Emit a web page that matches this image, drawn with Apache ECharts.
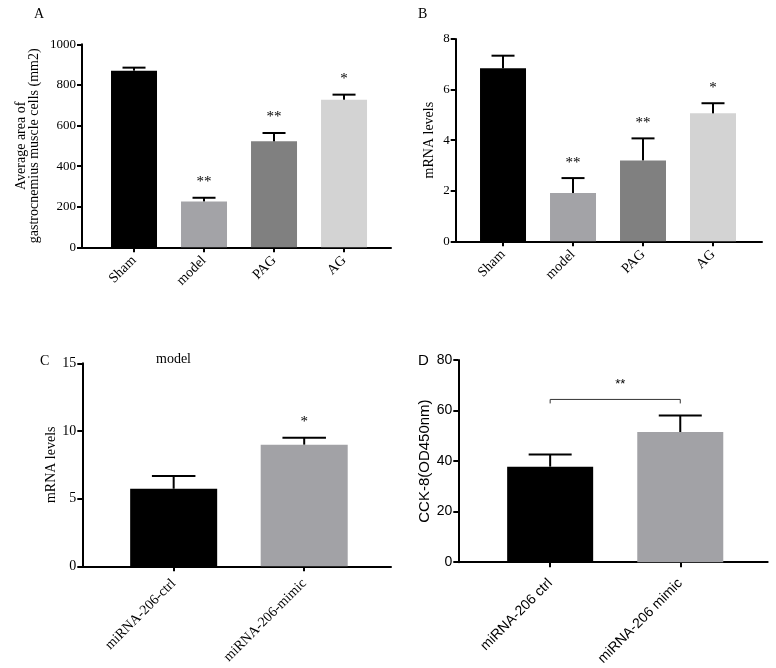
<!DOCTYPE html>
<html>
<head>
<meta charset="utf-8">
<script src="https://cdn.jsdelivr.net/npm/echarts@6/dist/echarts.min.js"></script>
<style>html,body{margin:0;padding:0;background:#fff}#c{width:776px;height:668px}</style>
</head>
<body>
<div id="c"></div>
<script>
// ---- data ----
var catsAB = ['Sham', 'model', 'PAG', 'AG'];
var areaMean = [870, 226, 522, 727];
var areaErr = [15, 18, 41, 25];
var areaSig = ['', '**', '**', '*'];
var mrnaMean = [6.84, 1.91, 3.20, 5.06];
var mrnaErr = [0.50, 0.59, 0.87, 0.40];
var mrnaSig = ['', '**', '**', '*'];
var catsC = ['miRNA-206-ctrl', 'miRNA-206-mimic'];
var mrnaCMean = [5.73, 8.99];
var mrnaCErr = [0.94, 0.51];
var mrnaCSig = ['', '*'];
var catsD = ['miRNA-206 ctrl', 'miRNA-206 mimic'];
var cckMean = [37.8, 51.5];
var cckErr = [4.8, 6.5];
var cckSig = ['', ''];
var bracketD = [[0, 1, 64.4]];
var bracketSig = ['**'];

var colorsAB = ['#000000', '#a3a3a7', '#808080', '#d3d3d3'];
var colorsCD = ['#000000', '#a2a2a6'];

var SERIF = '"Liberation Serif", "DejaVu Serif", serif';
var SANS = '"Liberation Sans", Arial, sans-serif';

function toData(means, errs) {
  return means.map(function (m, i) { return [i, m, errs[i]]; });
}

function barRender(widthFrac, colors, sigs, starFont, starGap) {
  return function (params, api) {
    var x = api.value(0), v = api.value(1), e = api.value(2);
    var d = params.dataIndex;
    var sig = sigs[d];
    var base = api.coord([x, 0]);
    var top = api.coord([x, v]);
    var errTop = api.coord([x, v + e]);
    var unit = api.size([1, 0])[0];
    var w = unit * widthFrac;
    var children = [
      { type: 'rect', shape: { x: base[0] - w / 2, y: top[1], width: w, height: base[1] - top[1] }, style: { fill: colors[d] } },
      { type: 'line', shape: { x1: top[0], y1: top[1], x2: top[0], y2: errTop[1] }, style: { stroke: '#000', lineWidth: 2 } },
      { type: 'line', shape: { x1: top[0] - w / 4, y1: errTop[1], x2: top[0] + w / 4, y2: errTop[1] }, style: { stroke: '#000', lineWidth: 2 } }
    ];
    if (sig) {
      children.push({ type: 'text', style: { text: sig, x: errTop[0], y: errTop[1] - starGap, align: 'center', verticalAlign: 'middle', font: starFont, fill: '#000' } });
    }
    return { type: 'group', children: children };
  };
}

function bracketRender(params, api) {
  var a = api.coord([api.value(0), api.value(2)]);
  var b = api.coord([api.value(1), api.value(2)]);
  var sig = bracketSig[params.dataIndex];
  return { type: 'group', children: [
    { type: 'polyline', shape: { points: [[a[0], a[1] + 4], [a[0], a[1]], [b[0], b[1]], [b[0], b[1] + 4]] }, style: { stroke: '#333', lineWidth: 1, fill: null } },
    { type: 'text', style: { text: sig, x: (a[0] + b[0]) / 2 + 5, y: a[1] - 15, align: 'center', verticalAlign: 'middle', font: '13px ' + SANS, fill: '#000' } }
  ] };
}

function xAxisCfg(gridIndex, min, max, cats, font, margin) {
  var vals = cats.map(function (c, i) { return i; });
  return {
    type: 'value', gridIndex: gridIndex, min: min, max: max,
    axisLine: { show: true, onZero: false, lineStyle: { color: '#000', width: 2 } },
    axisTick: { show: true, customValues: vals, length: 5, lineStyle: { color: '#000', width: 2 } },
    axisLabel: { show: true, customValues: vals, rotate: 45, margin: margin, color: '#000', fontFamily: font, fontSize: 14,
      formatter: function (v) { var i = Math.round(v); return cats[i] !== undefined ? cats[i] : ''; } },
    splitLine: { show: false }
  };
}

function yAxisCfg(gridIndex, max, interval, name, nameGap, font, tickSize, nameSize) {
  return {
    type: 'value', gridIndex: gridIndex, min: 0, max: max, interval: interval,
    name: name, nameLocation: 'middle', nameGap: nameGap,
    nameTextStyle: { color: '#000', fontFamily: font, fontSize: nameSize, lineHeight: 13, align: 'center' },
    axisLine: { show: true, onZero: false, lineStyle: { color: '#000', width: 2 } },
    axisTick: { show: true, length: 5, lineStyle: { color: '#000', width: 2 } },
    axisLabel: { color: '#000', fontFamily: font, fontSize: tickSize, margin: 6, formatter: function (v) { return String(v); } },
    splitLine: { show: false }
  };
}

var chart = echarts.init(document.getElementById('c'), null, { renderer: 'canvas' });
chart.setOption({
  animation: false,
  backgroundColor: '#fff',
  grid: [
    { left: 82, top: 44.3, width: 309, height: 203 },
    { left: 455.7, top: 39, width: 306.3, height: 202.3 },
    { left: 82.3, top: 363.3, width: 308.7, height: 203 },
    { left: 458.3, top: 360, width: 309.4, height: 202.3 }
  ],
  xAxis: [
    xAxisCfg(0, -0.743, 3.671, catsAB, SERIF, 11),
    xAxisCfg(1, -0.676, 3.70, catsAB, SERIF, 11),
    xAxisCfg(2, -0.70, 1.665, catsC, SERIF, 15),
    xAxisCfg(3, -0.706, 1.672, catsD, SANS, 19)
  ],
  yAxis: [
    yAxisCfg(0, 1000, 200, 'Average area of\ngastrocnemius muscle cells (mm2)', 41, SERIF, 13, 14),
    yAxisCfg(1, 8, 2, 'mRNA levels', 20, SERIF, 13, 14),
    yAxisCfg(2, 15, 5, 'mRNA levels', 23, SERIF, 14, 14),
    yAxisCfg(3, 80, 20, 'CCK-8(OD450nm)', 24, SANS, 14, 15)
  ],
  graphic: [
    { type: 'text', left: 34, top: 7, style: { text: 'A', font: '14px ' + SERIF, fill: '#000' } },
    { type: 'text', left: 418, top: 7, style: { text: 'B', font: '14px ' + SERIF, fill: '#000' } },
    { type: 'text', left: 40, top: 354, style: { text: 'C', font: '14px ' + SERIF, fill: '#000' } },
    { type: 'text', left: 156, top: 352, style: { text: 'model', font: '14px ' + SERIF, fill: '#000' } },
    { type: 'text', left: 418, top: 353, style: { text: 'D', font: '15px ' + SANS, fill: '#000' } }
  ],
  series: [
    { type: 'custom', xAxisIndex: 0, yAxisIndex: 0, clip: false, renderItem: barRender(46 / 70, colorsAB, areaSig, '15px ' + SERIF, 16), data: toData(areaMean, areaErr) },
    { type: 'custom', xAxisIndex: 1, yAxisIndex: 1, clip: false, renderItem: barRender(46 / 70, colorsAB, mrnaSig, '15px ' + SERIF, 15), data: toData(mrnaMean, mrnaErr) },
    { type: 'custom', xAxisIndex: 2, yAxisIndex: 2, clip: false, renderItem: barRender(87 / 130.5, colorsCD, mrnaCSig, '15px ' + SERIF, 16), data: toData(mrnaCMean, mrnaCErr) },
    { type: 'custom', xAxisIndex: 3, yAxisIndex: 3, clip: false, renderItem: barRender(86 / 130.1, colorsCD, cckSig, '15px ' + SANS, 16), data: toData(cckMean, cckErr) },
    { type: 'custom', xAxisIndex: 3, yAxisIndex: 3, clip: false, renderItem: bracketRender, data: bracketD }
  ]
});
</script>
</body>
</html>
